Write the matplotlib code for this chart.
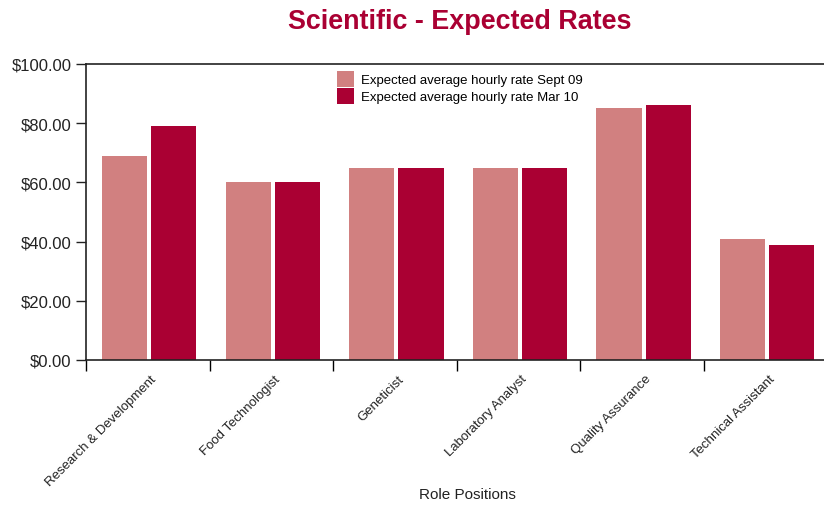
import numpy as np
import matplotlib.pyplot as plt
from matplotlib.ticker import FuncFormatter

plt.rcParams['font.family'] = ['Liberation Sans', 'DejaVu Sans']

# data
roles = ['Research & Development', 'Food Technologist', 'Geneticist',
         'Laboratory Analyst', 'Quality Assurance', 'Technical Assistant']
sept09 = [69, 60, 65, 65, 85, 41]
mar10 = [79, 60, 65, 65, 86, 39]
series_names = ['Expected average hourly rate Sept 09', 'Expected average hourly rate Mar 10']

pink = '#D18080'
red = '#AA0033'

fig = plt.figure(figsize=(8.24, 5.06), dpi=100)
ax = fig.add_axes([86/824, 1-361/506, 741.6/824, 296/506])

x = np.arange(len(roles))
w = 0.365
ax.bar(x + 0.13, sept09, width=w, align='edge', color=pink, label=series_names[0])
ax.bar(x + 0.13 + w + 0.033, mar10, width=w, align='edge', color=red, label=series_names[1])

ax.set_xlim(0, len(roles))
ax.set_ylim(0, 100)
ax.set_yticks(np.arange(0, 101, 20))
ax.yaxis.set_major_formatter(FuncFormatter(lambda v, p: f'${v:.2f}'))
ax.tick_params(axis='y', direction='out', length=7, width=1, labelsize=12, colors='#222222')

# category boundaries as ticks, labels at centres
ax.set_xticks(x)
ax.set_xticklabels([])
ax.tick_params(axis='x', which='major', direction='out', length=8, width=1)
ax.set_xticks(x + 0.52, minor=True)
ax.set_xticklabels(roles, minor=True, rotation=45, ha='right', rotation_mode='anchor',
                   fontsize=9.5, color='#222222')
ax.tick_params(axis='x', which='minor', length=0, pad=9)

for s in ['left', 'bottom', 'top']:
    ax.spines[s].set_linewidth(1.2)
    ax.spines[s].set_color('#222222')
ax.spines['right'].set_visible(False)

fig.text(467/824, 1-495/506, 'Role Positions', ha='center', va='center',
         fontsize=11, color='#222222')
fig.text(460/824, 1-22/506, 'Scientific - Expected Rates', ha='center', va='center',
         fontsize=19.4, fontweight='bold', color=red)

ax.legend(loc='upper left', bbox_to_anchor=(0.33, 1.0), frameon=False, fontsize=9.5,
          handlelength=1.3, handleheight=1.5, handletextpad=0.5, labelspacing=0.1,
          borderaxespad=0.1)

fig.savefig('out.png', dpi=100)
